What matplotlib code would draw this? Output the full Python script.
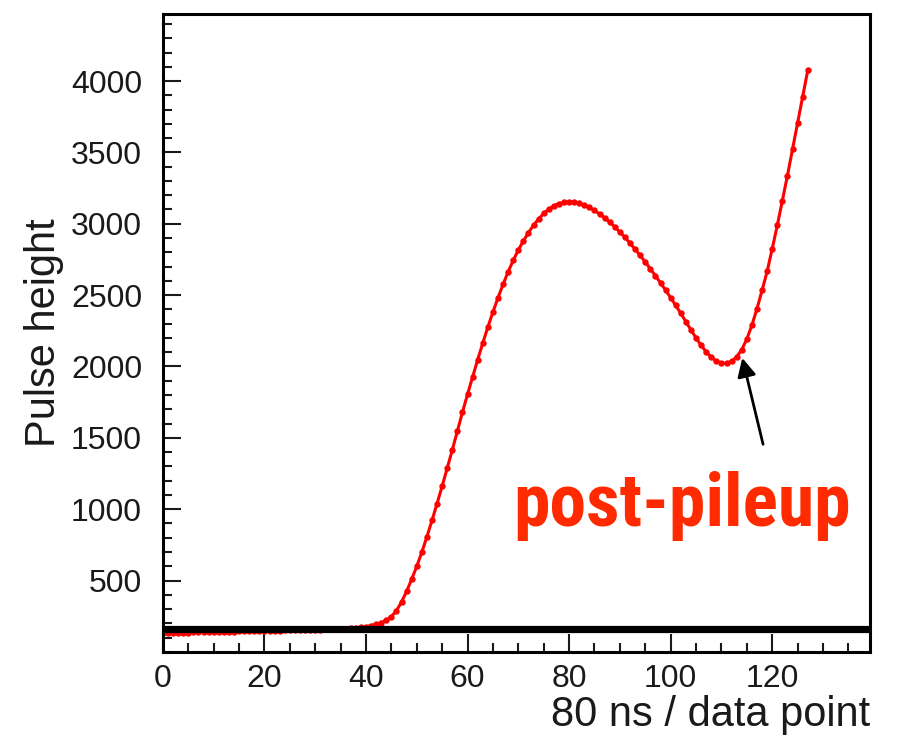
import matplotlib.pyplot as plt
import numpy as np
from matplotlib.ticker import MultipleLocator
from matplotlib import font_manager

# pulse samples, one per 80 ns data point
pulse = [
    133, 134, 134, 135, 136, 136, 137, 138, 138, 139,
    140, 141, 141, 142, 143, 144, 144, 145, 146, 147,
    148, 148, 149, 150, 151, 152, 152, 153, 154, 155,
    156, 157, 158, 159, 160, 161, 163, 165, 168, 172,
    177, 185, 195, 205, 222, 248, 290, 350, 425, 510,
    600, 700, 808, 922, 1040, 1162, 1288, 1416, 1548, 1680,
    1806, 1928, 2048, 2164, 2276, 2382, 2482, 2576, 2664, 2744,
    2816, 2880, 2938, 2990, 3034, 3072, 3103, 3126, 3142, 3150,
    3153, 3151, 3143, 3131, 3114, 3093, 3069, 3042, 3012, 2978,
    2942, 2904, 2864, 2822, 2778, 2732, 2684, 2636, 2586, 2535,
    2482, 2428, 2372, 2314, 2256, 2200, 2148, 2102, 2065, 2038,
    2024, 2022, 2036, 2068, 2118, 2192, 2290, 2405, 2533, 2666,
    2825, 2988, 3163, 3338, 3522, 3704, 3890, 4075,
]
samples = np.arange(len(pulse))
baseline = 162
x_ticks = [0, 20, 40, 60, 80, 100, 120]
y_ticks = [500, 1000, 1500, 2000, 2500, 3000, 3500, 4000]

plt.rcParams['font.family'] = ['Liberation Sans', 'DejaVu Sans']

# condensed bold face for the callout, if one is installed
names = {f.name for f in font_manager.fontManager.ttflist}
condensed = [n for n in ['Liberation Sans Narrow', 'DejaVu Sans Condensed',
                         'Roboto Condensed', 'Open Sans Condensed'] if n in names]
if condensed:
    label_font = dict(family=[condensed[0], 'DejaVu Sans'], fontsize=53)
else:
    label_font = dict(family=['Liberation Sans', 'DejaVu Sans'], fontsize=45)

fig = plt.figure(figsize=(9.05, 7.35), dpi=100)
ax = fig.add_axes([0.180, 0.113, 0.781, 0.868])

ax.plot(samples, pulse, color='#ff0000', lw=2.2, marker='o', ms=4.6,
        markeredgewidth=0, zorder=2)
ax.axhline(baseline, color='black', lw=5.2, zorder=3)

ax.set_xlim(0, 139.2)
ax.set_ylim(0, 4470)
ax.set_xticks(x_ticks)
ax.set_yticks(y_ticks)
ax.xaxis.set_minor_locator(MultipleLocator(5))
ax.yaxis.set_minor_locator(MultipleLocator(100))

ax.tick_params(which='both', direction='in', top=False, right=False,
               width=1.5, colors='#1a1a1a', labelsize=23)
ax.tick_params(which='major', length=13)
ax.tick_params(which='minor', length=6.5)
ax.tick_params(axis='x', pad=9)
ax.tick_params(axis='y', pad=15)
for s in ax.spines.values():
    s.set_linewidth(2.2)

ax.set_xlabel('80 ns / data point', fontsize=30, ha='right', color='#1a1a1a')
ax.xaxis.set_label_coords(1.0, -0.068)
ax.set_ylabel('Pulse height', fontsize=30, color='#1a1a1a')
ax.yaxis.set_label_coords(-0.140, 0.5)

ax.annotate('', xy=(114.1, 2060), xytext=(118.2, 1455),
            arrowprops=dict(arrowstyle='-|>', color='black', lw=2.0,
                            mutation_scale=28, shrinkA=0, shrinkB=0))
ax.text(102.3, 880, 'post-pileup', color='#ff2a00', fontweight='bold',
        ha='center', va='baseline', **label_font)

fig.savefig('out.png', dpi=100)
